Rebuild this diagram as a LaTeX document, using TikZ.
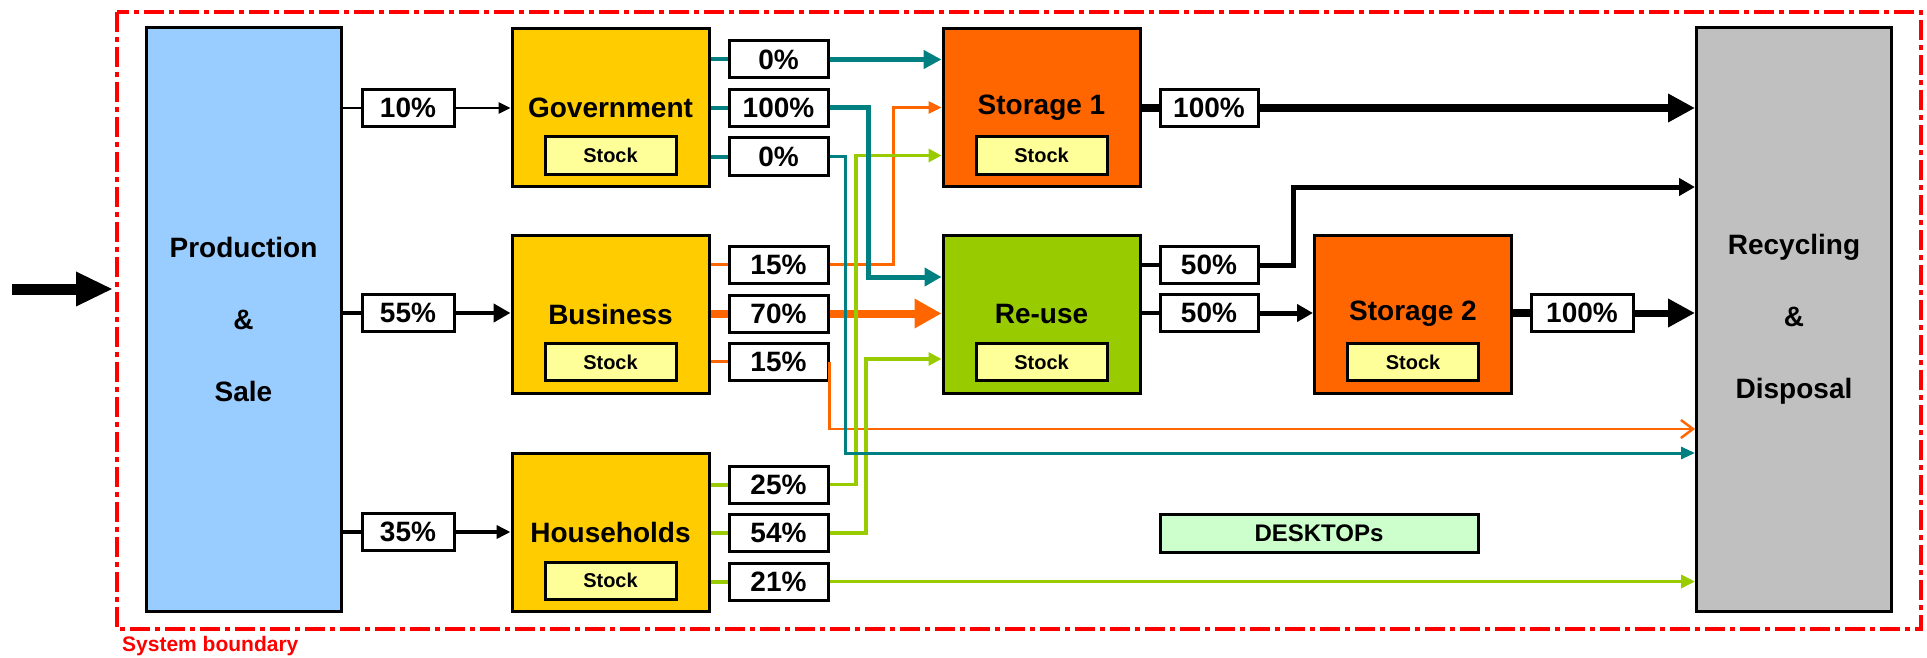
\documentclass[tikz,border=0pt]{standalone}
\usepackage{fontspec}
\setmainfont{Liberation Sans}
\usetikzlibrary{arrows.meta,positioning}

\definecolor{prodblue}{HTML}{99CCFF}
\definecolor{recgray}{HTML}{C0C0C0}
\definecolor{usergold}{HTML}{FFCC00}
\definecolor{storeorange}{HTML}{FF6600}
\definecolor{reusegreen}{HTML}{99CC00}
\definecolor{stockyellow}{HTML}{FFFF99}
\definecolor{deskgreen}{HTML}{CCFFCC}
\definecolor{flowteal}{HTML}{008080}
\definecolor{floworange}{HTML}{FF6600}
\definecolor{flowgreen}{HTML}{99CC00}

\tikzset{
  box/.style={draw, line width=3pt, inner sep=0pt, align=center,
    font=\bfseries\fontsize{28}{30}\selectfont},
  bigbox/.style={box, minimum width=195pt, minimum height=583pt,
    font=\bfseries\fontsize{28}{72}\selectfont},
  unitbox/.style={box, minimum width=197pt, minimum height=158pt},
  stock/.style={box, fill=stockyellow, minimum width=131pt, minimum height=37pt,
    font=\bfseries\fontsize{20}{22}\selectfont},
  sharebox/.style={box, fill=white, minimum width=99pt, minimum height=37pt},
  head/.style args={#1/#2}{-{Triangle[length=#1pt,width=#2pt]}}
}

\begin{document}
\begin{tikzpicture}[x=1pt,y=-1pt]
  \useasboundingbox (0,0) rectangle (1927,658);
  \draw[red, line width=4pt, dash pattern=on 20pt off 5pt on 5pt off 5pt] (117,12) rectangle (1921,629);
  \node[anchor=base west, inner sep=0pt, text=red,
    font=\bfseries\fontsize{21}{23}\selectfont] (sysb) at (122,651) {System boundary};

  \node[bigbox, fill=prodblue] (prod) at (243.5,319.5) {Production\\\&\\Sale};
  \node[bigbox, fill=recgray] (recyc) at (1794,319.5) {Recycling\\\&\\Disposal};

  \node[unitbox, fill=usergold] (gov) at (610.5,107.5) {Government};
  \node[unitbox, fill=usergold] (bus) at (610.5,314) {Business};
  \node[unitbox, fill=usergold] (hh) at (610.5,532.5) {Households};
  \node[unitbox, fill=storeorange] (stor1) at (1041.5,107.5) {Storage 1};
  \node[unitbox, fill=reusegreen] (reuse) at (1041.5,314) {Re-use};
  \node[unitbox, fill=storeorange] (stor2) at (1413,314) {Storage 2};
  \foreach \n in {gov,bus,hh,stor1,reuse,stor2}
    \node[stock] (\n-stock) at ([yshift=-48pt]\n.center) {Stock};

  \node[sharebox, minimum width=92pt] (pgov) at (408,108) {10\%};
  \node[sharebox, minimum width=92pt] (pbus) at (408,313) {55\%};
  \node[sharebox, minimum width=92pt] (phh) at (408,532) {35\%};

  \node[sharebox] (g1) at (778.5,59.5) {0\%};
  \node[sharebox] (g2) at (778.5,108) {100\%};
  \node[sharebox] (g3) at (778.5,156.5) {0\%};
  \node[sharebox] (b1) at (778.5,264.5) {15\%};
  \node[sharebox] (b2) at (778.5,313.5) {70\%};
  \node[sharebox] (b3) at (778.5,361.5) {15\%};
  \node[sharebox] (h1) at (778.5,484.5) {25\%};
  \node[sharebox] (h2) at (778.5,533) {54\%};
  \node[sharebox] (h3) at (778.5,581.5) {21\%};

  \node[sharebox, minimum width=98pt] (s1) at (1209,108) {100\%};
  \node[sharebox, minimum width=98pt] (r1) at (1209,265) {50\%};
  \node[sharebox, minimum width=98pt] (r2) at (1209,313) {50\%};
  \node[sharebox, minimum width=102pt] (s2) at (1582,313) {100\%};

  \node[box, fill=deskgreen, minimum width=318pt, minimum height=38pt,
    font=\bfseries\fontsize{24}{26}\selectfont] (desk) at (1319,533) {DESKTOPs};

  \coordinate (src) at (12,289);
  \coordinate (gate) at (113,289);
  \draw[line width=11pt, -{Triangle[length=37pt,width=32pt]}] (src) -- (gate);

  \draw[line width=2.5pt] (prod.east |- pgov.west) -- (pgov.west);
  \draw[line width=2.5pt, head=12/11] (pgov.east) -- (gov.west |- pgov.east);
  \draw[line width=4.5pt] (prod.east |- pbus.west) -- (pbus.west);
  \draw[line width=4.5pt, head=17/18] (pbus.east) -- (bus.west |- pbus.east);
  \draw[line width=4pt] (prod.east |- phh.west) -- (phh.west);
  \draw[line width=4pt, head=14/13] (phh.east) -- (hh.west |- phh.east);

  \foreach \s in {g1,g2,g3}
    \draw[flowteal, line width=4pt] (gov.east |- \s.west) -- (\s.west);
  \draw[floworange, line width=3pt] (bus.east |- b1.west) -- (b1.west);
  \draw[floworange, line width=8pt] (bus.east |- b2.west) -- (b2.west);
  \draw[floworange, line width=3pt] (bus.east |- b3.west) -- (b3.west);
  \foreach \s in {h1,h2,h3}
    \draw[flowgreen, line width=4pt] (hh.east |- \s.west) -- (\s.west);

  \draw[floworange, line width=3pt, head=13/12] (b1.east) -| (893,107.5) -- (stor1.west);
  \draw[floworange, line width=8pt, head=27/28] (b2.east) -- (reuse.west |- b2.east);
  \draw[floworange, line width=2.5pt, -{Straight Barb[length=12pt,width=18pt]}]
    (b3.east) |- (recyc.west |- 0,429);

  \draw[flowgreen, line width=3.5pt, head=13/13] (h1.east) -| (856,155.5) -- (stor1.west |- 0,155.5);
  \draw[flowgreen, line width=3.5pt, head=13/13] (h2.east) -| (866,359) -- (reuse.west |- 0,359);
  \draw[flowgreen, line width=3.5pt, head=14/13] (h3.east) -- (recyc.west |- h3.east);

  \draw[flowteal, line width=4.5pt, head=18/18] (g1.east) -- (stor1.west |- g1.east);
  \draw[flowteal, line width=5pt, head=17/18] (g2.east) -| (868,277) -- (reuse.west |- 0,277);
  \draw[flowteal, line width=3pt, head=14/12] (g3.east) -| (845,453) -- (recyc.west |- 0,453);

  \draw[line width=8pt] (stor1.east |- s1.west) -- (s1.west);
  \draw[line width=8pt, head=27/27] (s1.east) -- (recyc.west |- s1.east);
  \draw[line width=3.5pt] (reuse.east |- r1.west) -- (r1.west);
  \draw[line width=3.5pt] (reuse.east |- r2.west) -- (r2.west);
  \draw[line width=5pt, head=16/17] (r1.east) -| (1293,187) -- (recyc.west |- 0,187);
  \draw[line width=5pt, head=16/17] (r2.east) -- (stor2.west |- r2.east);
  \draw[line width=8pt] (stor2.east |- s2.west) -- (s2.west);
  \draw[line width=7pt, head=27/27] (s2.east) -- (recyc.west |- s2.east);
\end{tikzpicture}
\end{document}
